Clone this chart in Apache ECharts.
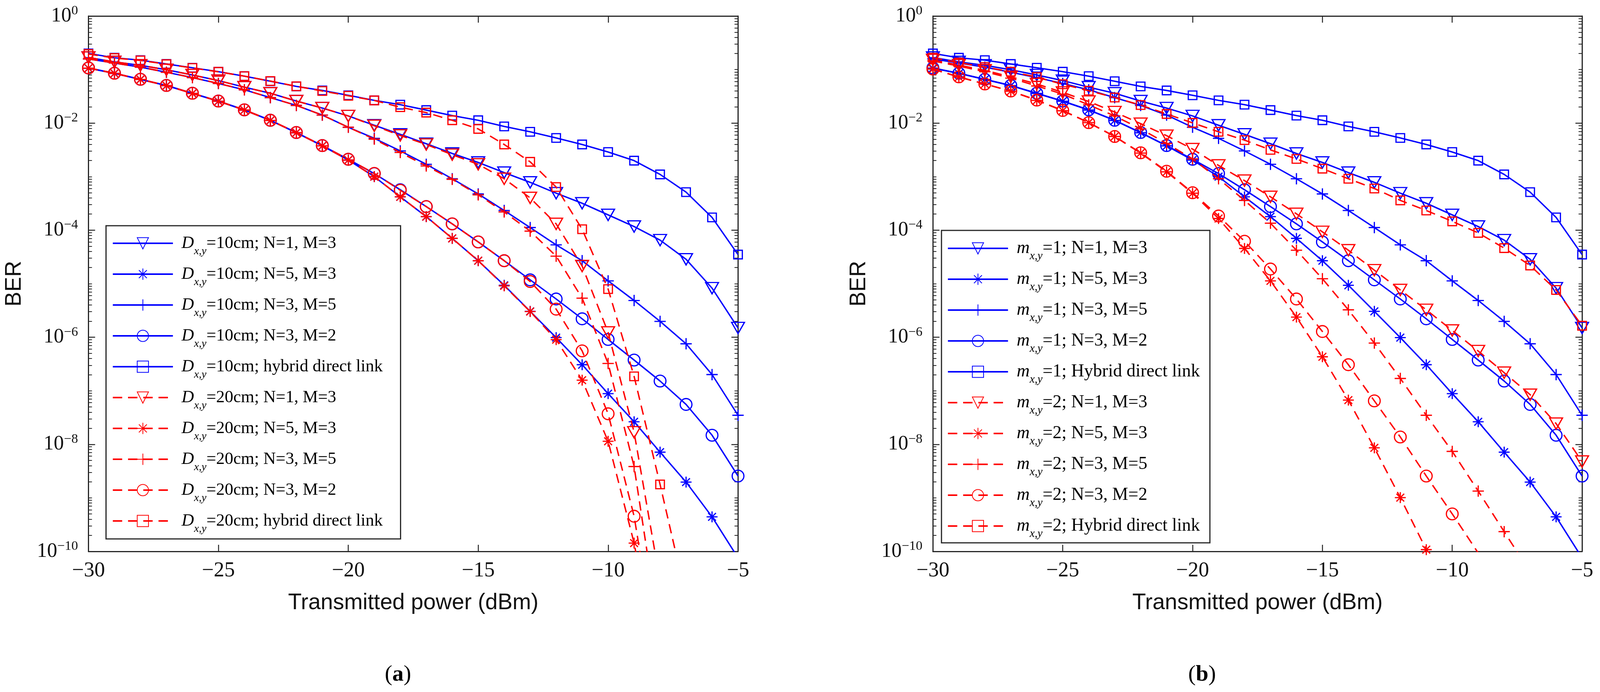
<!DOCTYPE html>
<html>
<head>
<meta charset="utf-8">
<script src="https://cdn.jsdelivr.net/npm/echarts@6.0.0/dist/echarts.min.js"></script>
<style>
html,body{margin:0;padding:0;background:#fff;overflow:hidden;}
#chart{width:100vw;height:100vh;}
</style>
</head>
<body>
<div id="chart"></div>
<script>
// ---------- data ----------
const power = [-30,-29,-28,-27,-26,-25,-24,-23,-22,-21,-20,-19,-18,-17,-16,-15,-14,-13,-12,-11,-10,-9,-8,-7,-6,-5];
const xTickValues = [-30,-25,-20,-15,-10,-5];
const yLabelValues = [1e-10,1e-8,1e-6,1e-4,1e-2,1];

// D=10cm in (a) and m=1 in (b): identical curves (blue, solid)
const berN1M3_10   = [1.68e-1,1.39e-1,1.20e-1,9.91e-2,7.93e-2,6.22e-2,4.69e-2,3.61e-2,2.58e-2,1.91e-2,1.36e-2,9.12e-3,6.17e-3,4.12e-3,2.71e-3,1.84e-3,1.19e-3,7.82e-4,4.91e-4,3.18e-4,1.93e-4,1.17e-4,6.52e-5,2.86e-5,8.26e-6,1.49e-6];
const berN5M3_10   = [1.06e-1,8.47e-2,6.53e-2,5.01e-2,3.58e-2,2.56e-2,1.75e-2,1.12e-2,6.61e-3,3.76e-3,2.04e-3,1.00e-3,4.20e-4,1.79e-4,7.03e-5,2.69e-5,9.35e-6,3.05e-6,9.84e-7,3.07e-7,8.85e-8,2.64e-8,7.14e-9,1.97e-9,4.42e-10,7.59e-11];
const berN3M5_10   = [1.58e-1,1.32e-1,1.11e-1,8.91e-2,7.08e-2,5.50e-2,4.19e-2,2.99e-2,2.14e-2,1.41e-2,8.36e-3,5.19e-3,3.02e-3,1.70e-3,9.12e-4,4.75e-4,2.33e-4,1.12e-4,5.32e-5,2.69e-5,1.13e-5,4.86e-6,1.98e-6,7.55e-7,2.01e-7,3.49e-8];
const berN3M2_10   = [1.07e-1,8.53e-2,6.58e-2,5.05e-2,3.61e-2,2.58e-2,1.77e-2,1.13e-2,6.67e-3,3.80e-3,2.11e-3,1.14e-3,5.69e-4,2.76e-4,1.31e-4,6.03e-5,2.69e-5,1.18e-5,5.18e-6,2.21e-6,9.10e-7,3.75e-7,1.52e-7,5.56e-8,1.48e-8,2.56e-9];
const berHybrid_10 = [2.00e-1,1.66e-1,1.50e-1,1.27e-1,1.08e-1,9.12e-2,7.52e-2,6.05e-2,4.84e-2,4.07e-2,3.31e-2,2.66e-2,2.21e-2,1.75e-2,1.38e-2,1.13e-2,8.67e-3,6.87e-3,5.28e-3,3.99e-3,2.88e-3,1.99e-3,1.10e-3,5.13e-4,1.73e-4,3.50e-5];

// D=20cm in (a) (red, dashed)
const berN1M3_20   = [1.68e-1,1.39e-1,1.20e-1,9.91e-2,7.93e-2,6.22e-2,4.69e-2,3.61e-2,2.58e-2,1.91e-2,1.36e-2,8.91e-3,5.89e-3,3.98e-3,2.57e-3,1.70e-3,9.12e-4,4.01e-4,1.31e-4,2.14e-5,1.23e-6,1.68e-8,2.75e-11,null,null,null];
const berN5M3_20   = [1.06e-1,8.47e-2,6.53e-2,5.01e-2,3.58e-2,2.56e-2,1.75e-2,1.12e-2,6.61e-3,3.76e-3,2.04e-3,1.00e-3,4.20e-4,1.79e-4,7.03e-5,2.69e-5,9.12e-6,3.02e-6,9.02e-7,1.58e-7,1.14e-8,1.43e-10,3.98e-13,null,null,null];
const berN3M5_20   = [1.58e-1,1.32e-1,1.11e-1,8.91e-2,7.08e-2,5.50e-2,4.19e-2,2.99e-2,2.14e-2,1.41e-2,8.36e-3,5.01e-3,2.82e-3,1.58e-3,8.91e-4,4.57e-4,2.19e-4,9.59e-5,3.27e-5,5.37e-6,3.24e-7,3.85e-9,2.51e-12,null,null,null];
const berN3M2_20   = [1.07e-1,8.53e-2,6.58e-2,5.05e-2,3.61e-2,2.58e-2,1.77e-2,1.13e-2,6.67e-3,3.80e-3,2.11e-3,1.15e-3,5.56e-4,2.76e-4,1.31e-4,6.03e-5,2.69e-5,1.10e-5,3.35e-6,5.56e-7,3.72e-8,4.54e-10,5.01e-13,null,null,null];
const berHybrid_20 = [1.95e-1,1.64e-1,1.48e-1,1.26e-1,1.07e-1,9.08e-2,7.52e-2,6.10e-2,4.86e-2,3.98e-2,3.24e-2,2.65e-2,1.98e-2,1.57e-2,1.13e-2,7.78e-3,3.99e-3,1.89e-3,6.38e-4,1.04e-4,7.94e-6,1.86e-7,1.78e-9,1.38e-11,null,null];

// m=2 in (b) (red, dashed)
const berN1M3_m2   = [1.51e-1,1.21e-1,9.68e-2,7.31e-2,5.38e-2,3.74e-2,2.53e-2,1.61e-2,9.75e-3,5.82e-3,3.27e-3,1.62e-3,8.43e-4,4.20e-4,2.02e-4,9.31e-5,4.22e-5,1.79e-5,7.64e-6,3.25e-6,1.34e-6,5.53e-7,2.18e-7,8.45e-8,2.44e-8,4.78e-9];
const berN5M3_m2   = [1.02e-1,7.24e-2,5.37e-2,3.94e-2,2.66e-2,1.70e-2,1.02e-2,5.62e-3,2.75e-3,1.23e-3,4.90e-4,1.65e-4,4.56e-5,1.13e-5,2.38e-6,4.32e-7,6.70e-8,8.61e-9,1.01e-9,1.08e-10,1.12e-11,null,null,null,null,null];
const berN3M5_m2   = [1.45e-1,1.16e-1,9.12e-2,6.92e-2,4.94e-2,3.47e-2,2.19e-2,1.36e-2,7.80e-3,4.17e-3,2.14e-3,9.12e-4,3.60e-4,1.35e-4,4.22e-5,1.24e-5,3.25e-6,7.78e-7,1.70e-7,3.49e-8,7.38e-9,1.34e-9,2.34e-10,4.07e-11,null,null];
const berN3M2_m2   = [1.02e-1,7.31e-2,5.38e-2,3.98e-2,2.69e-2,1.72e-2,1.02e-2,5.62e-3,2.79e-3,1.26e-3,5.01e-4,1.84e-4,6.21e-5,1.88e-5,5.18e-6,1.28e-6,3.07e-7,6.49e-8,1.37e-8,2.56e-9,5.02e-10,9.33e-11,1.58e-11,null,null,null];
const berHybrid_m2 = [1.66e-1,1.35e-1,1.11e-1,9.12e-2,7.24e-2,5.31e-2,4.03e-2,3.00e-2,2.17e-2,1.48e-2,1.01e-2,6.87e-3,4.81e-3,3.16e-3,2.14e-3,1.41e-3,9.12e-4,6.00e-4,3.60e-4,2.33e-4,1.46e-4,8.89e-5,4.62e-5,2.19e-5,7.64e-6,1.64e-6];

const namesA = ['Dx,y=10cm; N=1, M=3','Dx,y=10cm; N=5, M=3','Dx,y=10cm; N=3, M=5','Dx,y=10cm; N=3, M=2','Dx,y=10cm; hybrid direct link',
                'Dx,y=20cm; N=1, M=3','Dx,y=20cm; N=5, M=3','Dx,y=20cm; N=3, M=5','Dx,y=20cm; N=3, M=2','Dx,y=20cm; hybrid direct link'];
const namesB = ['mx,y=1; N=1, M=3','mx,y=1; N=5, M=3','mx,y=1; N=3, M=5','mx,y=1; N=3, M=2','mx,y=1; Hybrid direct link',
                'mx,y=2; N=1, M=3','mx,y=2; N=5, M=3','mx,y=2; N=3, M=5','mx,y=2; N=3, M=2','mx,y=2; Hybrid direct link'];

// ---------- layout (reference is 4286 x 1772; scale to the actual viewport) ----------
const dom = document.getElementById('chart');
const SX = (dom.clientWidth || window.innerWidth) / 4286;
const SY = (dom.clientHeight || window.innerHeight) / 1772;
const X = v => v * SX, Y = v => v * SY;

const SERIF = 'Liberation Serif';
const SANS = 'Liberation Sans';
const BLUE = '#0000ff', RED = '#ff0000', AX = '#262626';
const SYMS = {
  tri:    {symbol: 'path://M0,0L24,0L12,21Z', size: [33, 29]},
  star:   {symbol: 'path://M10,0L10,20M0,10L20,10M2.93,2.93L17.07,17.07M2.93,17.07L17.07,2.93', size: 28},
  plus:   {symbol: 'path://M10,0L10,20M0,10L20,10', size: 29},
  circle: {symbol: 'circle', size: 30},
  square: {symbol: 'rect', size: 22}
};
const symOrder = ['tri','star','plus','circle','square'];

const minorY = [];
for (let e = -10; e < 0; e++) {
  for (let k = 1; k <= 9; k++) {
    if (k === 1 && e % 2 === 0) continue;
    minorY.push(k * Math.pow(10, e));
  }
}

function pairs(arr) {
  const out = [];
  arr.forEach((v, i) => { if (v !== null) out.push([power[i], v]); });
  return out;
}
function mkSeries(name, arr, color, dashed, symKey, xi, yi) {
  const s = SYMS[symKey];
  return {
    type: 'line', name: name, data: pairs(arr),
    xAxisIndex: xi, yAxisIndex: yi,
    symbol: s.symbol, symbolSize: s.size, showSymbol: true,
    lineStyle: {color: color, width: 3.6, type: dashed ? [24, 15] : 'solid'},
    itemStyle: {color: 'rgba(255,255,255,0)', borderColor: color, borderWidth: 3.1},
    clip: true, animation: false, emphasis: {disabled: true},
    z: dashed ? 4 : 3
  };
}

const gridA = {left: X(237), top: Y(41), width: X(1740), height: Y(1371)};
const gridB = {left: X(2499), top: Y(41), width: X(1739), height: Y(1371)};

function xAxes(gi) {
  const base = {
    type: 'value', gridIndex: gi, min: -30, max: -5, interval: 5,
    axisLine: {show: true, onZero: false, lineStyle: {color: AX, width: 3}},
    axisTick: {show: true, inside: true, length: 17, lineStyle: {color: AX, width: 2.5}},
    splitLine: {show: false}
  };
  return [
    Object.assign({}, base, {
      position: 'bottom',
      axisLabel: {show: true, margin: 23, color: '#111', fontFamily: SERIF, fontSize: 54,
        customValues: xTickValues,
        formatter: v => String(v).replace('-', '\u2212')},
      name: 'Transmitted power (dBm)', nameLocation: 'middle', nameGap: 104,
      nameTextStyle: {fontFamily: SANS, fontSize: 57, color: '#111'}
    }),
    Object.assign({}, base, {position: 'top', axisLabel: {show: false}})
  ];
}
function yAxes(gi) {
  const base = {
    type: 'log', logBase: 10, gridIndex: gi, min: 1e-10, max: 1,
    splitLine: {show: false}, axisLabel: {show: false}
  };
  const lineOn = {show: true, onZero: false, lineStyle: {color: AX, width: 3}};
  return [
    Object.assign({}, base, {
      position: 'left', axisLine: lineOn,
      axisTick: {show: true, inside: true, length: 17, customValues: yLabelValues, lineStyle: {color: AX, width: 2.5}},
      axisLabel: {
        show: true, margin: X(28), customValues: yLabelValues,
        formatter: v => {
          const e = Math.round(Math.log10(v));
          return '{b|10}{e|' + (e < 0 ? '\u2212' + (-e) : String(e)) + '}';
        },
        rich: {
          b: {fontFamily: SERIF, fontSize: 52, lineHeight: 60, color: '#111'},
          e: {fontFamily: SERIF, fontSize: 34, lineHeight: 34, verticalAlign: 'top', color: '#111'}
        }
      },
      name: 'BER', nameLocation: 'middle', nameGap: X(168), nameRotate: 90,
      nameTextStyle: {fontFamily: SANS, fontSize: 57, color: '#111'}
    }),
    Object.assign({}, base, {
      position: 'left', axisLine: {show: false},
      axisTick: {show: true, inside: true, length: 9, customValues: minorY, lineStyle: {color: AX, width: 2}}
    }),
    Object.assign({}, base, {
      position: 'right', axisLine: lineOn,
      axisTick: {show: true, inside: true, length: 17, customValues: yLabelValues, lineStyle: {color: AX, width: 2.5}}
    }),
    Object.assign({}, base, {
      position: 'right', axisLine: {show: false},
      axisTick: {show: true, inside: true, length: 9, customValues: minorY, lineStyle: {color: AX, width: 2}}
    })
  ];
}

const series = [];
const blueSets = [berN1M3_10, berN5M3_10, berN3M5_10, berN3M2_10, berHybrid_10];
const redA = [berN1M3_20, berN5M3_20, berN3M5_20, berN3M2_20, berHybrid_20];
const redB = [berN1M3_m2, berN5M3_m2, berN3M5_m2, berN3M2_m2, berHybrid_m2];
for (let i = 0; i < 5; i++) series.push(mkSeries(namesA[i], blueSets[i], BLUE, false, symOrder[i], 0, 0));
for (let i = 0; i < 5; i++) series.push(mkSeries(namesA[5 + i], redA[i], RED, true, symOrder[i], 0, 0));
for (let i = 0; i < 5; i++) series.push(mkSeries(namesB[i], blueSets[i], BLUE, false, symOrder[i], 2, 4));
for (let i = 0; i < 5; i++) series.push(mkSeries(namesB[5 + i], redB[i], RED, true, symOrder[i], 2, 4));

// legend targets in reference pixels
const LEG = [
  {names: namesA, first: 'D', left: 284, top: 578, right: 1073, bottom: 1380, firstRow: 623, padL: 16, font: 44, sub: 28},
  {names: namesB, first: 'm', left: 2522, top: 590, right: 3241, bottom: 1390, firstRow: 636, padL: 15, font: 46, sub: 29}
];
const ROW = 79, ITEM_H = 36, GAP0 = 9;

function legendCfg(L) {
  return {
    data: L.names, left: X(L.left), top: Y(L.top), orient: 'vertical',
    itemWidth: X(161), itemHeight: ITEM_H, itemGap: GAP0,
    padding: [10, 17, 11, X(L.padL)], backgroundColor: '#fff', borderColor: AX, borderWidth: 3, borderRadius: 0,
    selectedMode: false,
    lineStyle: {width: 4.2},
    formatter: n => '{g| }{i|' + L.first + '}{s|x,y}{t|' + n.slice(4) + '}',
    textStyle: {
      color: '#000',
      rich: {
        g: {width: X(18), fontSize: L.font, lineHeight: 70},
        i: {fontFamily: SERIF, fontStyle: 'italic', fontSize: L.font, lineHeight: 70, color: '#000'},
        s: {fontFamily: SERIF, fontStyle: 'italic', fontSize: L.sub, lineHeight: L.sub, verticalAlign: 'bottom', color: '#000'},
        t: {fontFamily: SERIF, fontSize: L.font, lineHeight: 70, color: '#000'}
      }
    }
  };
}

const labelRich = {
  p: {fontFamily: SERIF, fontSize: 58, fill: '#000'},
  a: {fontFamily: SERIF, fontSize: 58, fontWeight: 'bold', fill: '#000'}
};

const option = {
  backgroundColor: '#fff',
  animation: false,
  grid: [gridA, gridB],
  xAxis: xAxes(0).concat(xAxes(1)),
  yAxis: yAxes(0).concat(yAxes(1)),
  legend: LEG.map(legendCfg),
  graphic: [
    {type: 'text', x: X(1066), y: Y(1728), style: {text: '{p|(}{a|a}{p|)}', align: 'center', verticalAlign: 'middle', rich: labelRich}},
    {type: 'text', x: X(3220), y: Y(1728), style: {text: '{p|(}{a|b}{p|)}', align: 'center', verticalAlign: 'middle', rich: labelRich}}
  ],
  series: series
};

const chart = echarts.init(dom, null, {renderer: 'canvas'});
chart.setOption(option);

// fine-tune the legend boxes so rows and box edges land where the reference has them
function tuneLegend(idx) {
  try {
    const L = LEG[idx];
    const lm = chart.getModel().getComponent('legend', idx);
    const lv = chart.getViewOfComponentModel(lm);
    const cg = lv.getContentGroup ? lv.getContentGroup() : lv._contentGroup;
    const gx = lv.group.x + cg.x, gy = lv.group.y + cg.y;
    const cr = cg.getBoundingRect();
    const n = cg.childCount();
    const c0 = cg.childAt(0), c1 = cg.childAt(1);
    const spacing = c1.y - c0.y;
    const firstCenter = gy + c0.y + ITEM_H / 2;
    const contentTop = gy + cr.y;
    const contentRight = gx + cr.x + cr.width;
    const o = firstCenter - contentTop;
    const dGap = Y(ROW) - spacing;
    const padTop = (Y(L.firstRow) - Y(L.top)) - o;
    const newContentH = cr.height + (n - 1) * dGap;
    const padB = Y(L.bottom) - (Y(L.top) + padTop + newContentH);
    const padR = X(L.right) - contentRight;
    return {
      itemGap: GAP0 + dGap,
      padding: [Math.max(2, padTop), Math.max(4, padR), Math.max(2, padB), X(L.padL)]
    };
  } catch (e) {
    return {};
  }
}
chart.setOption({legend: [tuneLegend(0), tuneLegend(1)]});
</script>
</body>
</html>
